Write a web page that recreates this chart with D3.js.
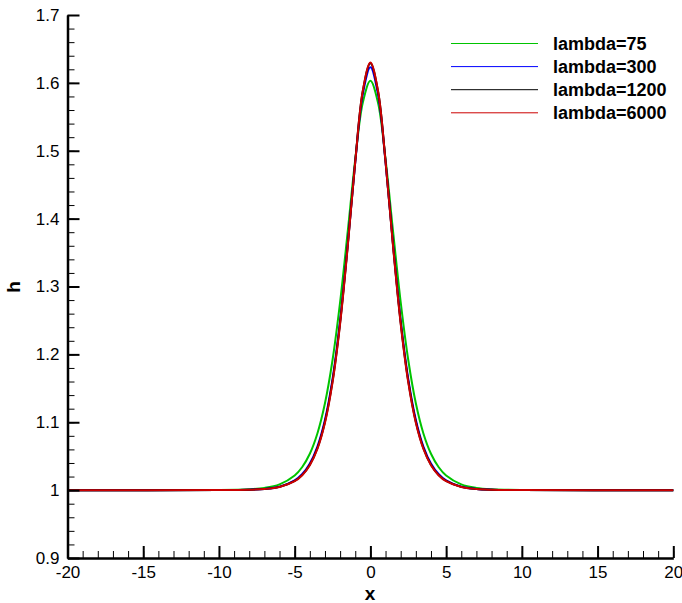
<!DOCTYPE html>
<html>
<head>
<meta charset="utf-8">
<script src="https://cdn.jsdelivr.net/npm/d3@7"></script>
<style>
body { margin: 0; background: #fff; }
svg { font-family: "Liberation Sans", Arial, Helvetica, sans-serif; }
</style>
</head>
<body>
<svg class="chart" width="682" height="603"></svg>
<script>
// x positions shared by all series
const xs = [-20, -10, -8, -7, -6, -5, -4.5, -4, -3.5, -3, -2.5, -2, -1.5, -1, -0.5, 0,
	0.5, 1, 1.5, 2, 2.5, 3, 3.5, 4, 4.5, 5, 6, 7, 8, 10, 20]

// h values
const h75 = [1.0, 1.0002, 1.0013, 1.0033, 1.0085, 1.0215, 1.0341, 1.0536, 1.0835, 1.128, 1.1917, 1.277, 1.3804, 1.4872, 1.5709, 1.603,
	1.5709, 1.4872, 1.3804, 1.277, 1.1917, 1.128, 1.0835, 1.0536, 1.0341, 1.0215, 1.0085, 1.0033, 1.0013, 1.0002, 1.0]
const h300 = [1.0, 1.0001, 1.0007, 1.0018, 1.0051, 1.0143, 1.0237, 1.0392, 1.0642, 1.1037, 1.1639, 1.2498, 1.3611, 1.4831, 1.5834, 1.623,
	1.5834, 1.4831, 1.3611, 1.2498, 1.1639, 1.1037, 1.0642, 1.0392, 1.0237, 1.0143, 1.0051, 1.0018, 1.0007, 1.0001, 1.0]
const h1200 = [1.0, 1.0001, 1.0006, 1.0017, 1.0048, 1.0135, 1.0225, 1.0375, 1.0619, 1.1008, 1.1605, 1.2468, 1.3596, 1.4845, 1.588, 1.629,
	1.588, 1.4845, 1.3596, 1.2468, 1.1605, 1.1008, 1.0619, 1.0375, 1.0225, 1.0135, 1.0048, 1.0017, 1.0006, 1.0001, 1.0]
const h6000 = [1.0, 1.0001, 1.0006, 1.0016, 1.0046, 1.0131, 1.022, 1.0367, 1.0608, 1.0993, 1.1587, 1.245, 1.358, 1.4839, 1.5885, 1.630,
	1.5885, 1.4839, 1.358, 1.245, 1.1587, 1.0993, 1.0608, 1.0367, 1.022, 1.0131, 1.0046, 1.0016, 1.0006, 1.0001, 1.0]

const seriesNames = ["lambda=75", "lambda=300", "lambda=1200", "lambda=6000"]
const seriesValues = [h75, h300, h1200, h6000]
const seriesColors = ["#00c400", "#0000ff", "#000000", "#cc0000"]

const xTicks = [-20, -15, -10, -5, 0, 5, 10, 15, 20]
const yTicks = [0.9, 1, 1.1, 1.2, 1.3, 1.4, 1.5, 1.6, 1.7]

const svg = d3.select("svg.chart")

const plotLeft = 67.5, plotRight = 673.3, plotTop = 15, plotBottom = 558

const x = d3.scaleLinear().domain([-20, 20]).range([plotLeft, plotRight])
const y = d3.scaleLinear().domain([0.9, 1.7]).range([plotBottom, plotTop])

// minor ticks first, then major axes on top
svg.append("g")
	.attr("transform", "translate(0," + plotBottom + ")")
	.call(d3.axisBottom(x).tickValues(d3.range(-20, 21, 1)).tickSize(-7).tickSizeOuter(0).tickFormat(""))
	.call(g => g.select(".domain").remove())
	.call(g => g.selectAll("line").attr("stroke", "#000").attr("stroke-width", 1))

svg.append("g")
	.attr("transform", "translate(" + plotLeft + ",0)")
	.call(d3.axisLeft(y).tickValues(d3.range(0, 41).map(i => 0.9 + i * 0.02)).tickSize(-7).tickSizeOuter(0).tickFormat(""))
	.call(g => g.select(".domain").remove())
	.call(g => g.selectAll("line").attr("stroke", "#000").attr("stroke-width", 1))

// curves
const line = d3.line()
	.x((d, i) => x(xs[i]))
	.y(d => y(d))
	.curve(d3.curveCatmullRom)

svg.selectAll("path.series")
	.data(seriesValues)
	.enter()
	.append("path")
	.attr("class", "series")
	.attr("fill", "none")
	.attr("stroke", (d, i) => seriesColors[i])
	.attr("stroke-width", 2)
	.attr("d", line)

const xAxis = svg.append("g")
	.attr("transform", "translate(0," + plotBottom + ")")
	.call(d3.axisBottom(x).tickValues(xTicks).tickSize(-12).tickSizeOuter(0).tickPadding(8).tickFormat(d => String(d)))

const yAxis = svg.append("g")
	.attr("transform", "translate(" + plotLeft + ",0)")
	.call(d3.axisLeft(y).tickValues(yTicks).tickSize(-12).tickSizeOuter(0).tickPadding(8).tickFormat(d => String(d)))

for (const g of [xAxis, yAxis]) {
	g.select(".domain").attr("stroke", "#000").attr("stroke-width", 2.5)
	g.selectAll(".tick line").attr("stroke", "#000").attr("stroke-width", 2)
	g.selectAll(".tick text").attr("fill", "#000").attr("font-size", 17)
		.attr("font-family", "'Liberation Sans', Arial, sans-serif")
}

// axis titles
svg.append("text")
	.attr("x", 370)
	.attr("y", 600)
	.attr("text-anchor", "middle")
	.attr("font-size", 19)
	.attr("font-weight", "bold")
	.text("x")

svg.append("text")
	.attr("transform", "translate(20,287) rotate(-90)")
	.attr("text-anchor", "middle")
	.attr("font-size", 19)
	.attr("font-weight", "bold")
	.text("h")

// legend
const legend = svg.selectAll("g.legend")
	.data(seriesNames)
	.enter()
	.append("g")
	.attr("class", "legend")
	.attr("transform", (d, i) => "translate(451," + (43.5 + i * 23.1) + ")")

legend.append("line")
	.attr("x1", 0)
	.attr("x2", 87)
	.attr("stroke", (d, i) => seriesColors[i])
	.attr("stroke-width", 1)

legend.append("text")
	.attr("x", 102)
	.attr("dy", "0.36em")
	.attr("font-size", 18)
	.attr("font-weight", "bold")
	.text(d => d)
</script>
</body>
</html>
